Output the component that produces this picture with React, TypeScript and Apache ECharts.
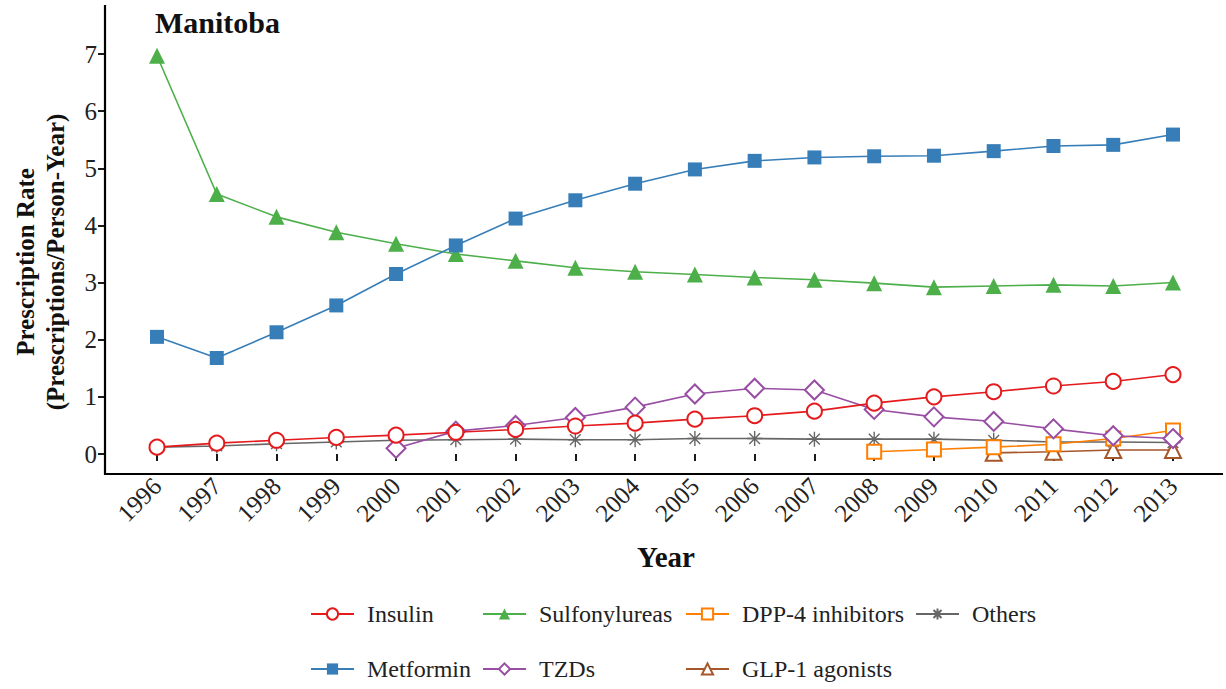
import React, { useEffect, useRef } from "react";
import * as echarts from "echarts";

const years = [1996, 1997, 1998, 1999, 2000, 2001, 2002, 2003, 2004, 2005, 2006, 2007, 2008, 2009, 2010, 2011, 2012, 2013];
const insulin = [0.12, 0.19, 0.24, 0.29, 0.33, 0.38, 0.43, 0.49, 0.54, 0.61, 0.67, 0.75, 0.89, 1.0, 1.09, 1.19, 1.27, 1.39];
const sulfonylureas = [6.97, 4.55, 4.15, 3.88, 3.68, 3.5, 3.38, 3.26, 3.19, 3.14, 3.09, 3.05, 2.99, 2.92, 2.94, 2.96, 2.94, 3.0];
const dpp4 = [null, null, null, null, null, null, null, null, null, null, null, null, 0.04, 0.08, 0.12, 0.17, 0.27, 0.41];
const others = [0.12, 0.14, 0.18, 0.21, 0.24, 0.25, 0.26, 0.25, 0.25, 0.27, 0.27, 0.26, 0.26, 0.26, 0.24, 0.21, 0.21, 0.2];
const metformin = [2.05, 1.68, 2.13, 2.6, 3.15, 3.65, 4.12, 4.44, 4.73, 4.98, 5.13, 5.19, 5.21, 5.22, 5.3, 5.39, 5.41, 5.59];
const tzds = [null, null, null, null, 0.1, 0.4, 0.5, 0.64, 0.82, 1.05, 1.15, 1.12, 0.78, 0.65, 0.57, 0.44, 0.32, 0.27];
const glp1 = [null, null, null, null, null, null, null, null, null, null, null, null, null, null, 0.02, 0.04, 0.07, 0.07];
const yTicks = [0, 1, 2, 3, 4, 5, 6, 7];

const FONT = "'Liberation Serif', 'Times New Roman', serif";
const ASTERISK = "path://M7,0L7,14M0,7L14,7M2,2L12,12M12,2L2,12";

function pairs(vals: (number | null)[]) {
  const out: number[][] = [];
  vals.forEach((v, i) => {
    if (v !== null) out.push([years[i], v]);
  });
  return out;
}

export default function App() {
  const ref = useRef<HTMLDivElement>(null);
  useEffect(() => {
    if (!ref.current) return;
    const chart = echarts.init(ref.current, undefined, { renderer: "svg" });

    const mk = (name: string, vals: (number | null)[], color: string, symbol: string, size: number, z: number, hollow: boolean) => ({
      name,
      type: "line",
      data: pairs(vals),
      symbol,
      symbolSize: size,
      clip: false,
      z,
      lineStyle: { color, width: 1.6 },
      itemStyle: hollow
        ? { color, borderColor: color, borderWidth: 1.4 }
        : { color, borderColor: color, borderWidth: 0 },
    });

    const legendPos: [string, number, number][] = [
      ["Insulin", 310, 615],
      ["Sulfonylureas", 482, 615],
      ["DPP-4 inhibitors", 685, 615],
      ["Others", 915, 615],
      ["Metformin", 310, 670],
      ["TZDs", 482, 670],
      ["GLP-1 agonists", 685, 670],
    ];

    chart.setOption({
      animation: false,
      backgroundColor: "#ffffff",
      grid: { left: 157, right: 53, top: 54, bottom: 235, containLabel: false },
      xAxis: {
        type: "value",
        min: years[0],
        max: years[years.length - 1],
        interval: 1,
        offset: 20,
        axisLine: { show: false },
        axisTick: { show: true, length: 7, lineStyle: { color: "#000", width: 1.8 } },
        splitLine: { show: false },
        axisLabel: {
          rotate: 45,
          fontSize: 25,
          fontFamily: FONT,
          color: "#222",
          margin: 8,
          formatter: (v: number) => String(v),
        },
      },
      yAxis: {
        type: "value",
        min: yTicks[0],
        max: yTicks[yTicks.length - 1],
        interval: 1,
        offset: 52,
        axisLine: { show: false },
        axisTick: { show: true, length: 7, lineStyle: { color: "#000", width: 1.8 } },
        splitLine: { show: false },
        axisLabel: { fontSize: 25, fontFamily: FONT, color: "#222", margin: 8 },
      },
      legend: legendPos.map(([n, x, y]) => ({
        data: [n],
        left: x,
        top: y - 13,
        padding: 0,
        itemWidth: 43,
        itemHeight: 14,
        textStyle: { fontSize: 24, fontFamily: FONT, color: "#222", padding: [0, 0, 0, 8] },
      })),
      graphic: [
        { type: "line", shape: { x1: 105, y1: 5, x2: 105, y2: 475 }, style: { stroke: "#000", lineWidth: 2.2 } },
        { type: "line", shape: { x1: 104, y1: 474, x2: 1223, y2: 474 }, style: { stroke: "#000", lineWidth: 2.2 } },
        {
          type: "text",
          x: 155,
          y: 22,
          style: { text: "Manitoba", font: `bold 30px ${FONT}`, fill: "#111", textAlign: "left", textVerticalAlign: "middle" },
        },
        {
          type: "text",
          x: 666,
          y: 557,
          style: { text: "Year", font: `bold 29px ${FONT}`, fill: "#111", textAlign: "center", textVerticalAlign: "middle" },
        },
        {
          type: "text",
          x: 40,
          y: 262,
          rotation: Math.PI / 2,
          style: {
            text: "Prescription Rate\n(Prescriptions/Person-Year)",
            font: `bold 25px ${FONT}`,
            fill: "#111",
            textAlign: "center",
            textVerticalAlign: "middle",
            lineHeight: 30,
          },
        },
      ],
      series: [
        mk("Others", others, "#666666", ASTERISK, 15, 2, true),
        mk("GLP-1 agonists", glp1, "#A65628", "emptyTriangle", 16, 3, true),
        mk("DPP-4 inhibitors", dpp4, "#FF7F00", "emptyRect", 14, 4, true),
        mk("TZDs", tzds, "#984EA3", "emptyDiamond", 19, 5, true),
        mk("Insulin", insulin, "#E41A1C", "emptyCircle", 15, 6, true),
        mk("Sulfonylureas", sulfonylureas, "#4DAF4A", "triangle", 16, 7, false),
        mk("Metformin", metformin, "#377EB8", "rect", 14, 8, false),
      ],
    });
    return () => chart.dispose();
  }, []);
  return <div ref={ref} style={{ position: "fixed", left: 0, top: 0, width: 1226, height: 689 }} />;
}
